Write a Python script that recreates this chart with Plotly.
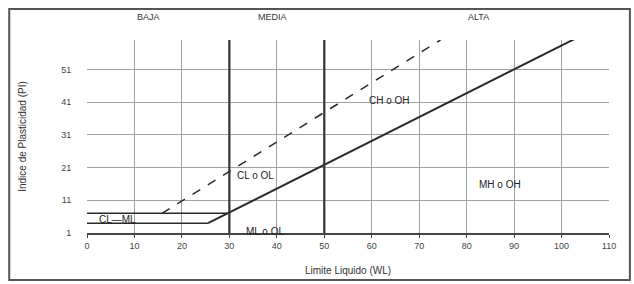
import plotly.graph_objects as go

# Data
ll_ticks = [0, 10, 20, 30, 40, 50, 60, 70, 80, 90, 100, 110]
pi_ticks = [1, 11, 21, 31, 41, 51]

a_line_ll = [25.5, 29.6, 103]
a_line_pi = [4, 7, 60.5]

u_line_ll = [15.8, 74.5]
u_line_pi = [7, 60]

clml_top_ll = [0, 29.6]
clml_top_pi = [7, 7]
clml_bot_ll = [0, 25.5]
clml_bot_pi = [4, 4]

zone_bounds = [30, 50]
zone_labels = ["BAJA", "MEDIA", "ALTA"]
zone_label_x = [13, 39, 82.5]

region_labels = ["CH o OH", "CL o OL", "MH o OH", "ML o OL", "CL—ML"]
region_x = [63.7, 35.5, 87, 37.5, 6.5]
region_y = [41.4, 18.7, 15.7, 1.6, 5.0]

fig = go.Figure()

line_col = "#2a2a2a"
fig.add_trace(go.Scatter(x=a_line_ll, y=a_line_pi, mode="lines",
                         line=dict(color=line_col, width=2), hoverinfo="skip"))
fig.add_trace(go.Scatter(x=u_line_ll, y=u_line_pi, mode="lines",
                         line=dict(color=line_col, width=1.5, dash="dash"), hoverinfo="skip"))
fig.add_trace(go.Scatter(x=clml_top_ll, y=clml_top_pi, mode="lines",
                         line=dict(color=line_col, width=1.5), hoverinfo="skip"))
fig.add_trace(go.Scatter(x=clml_bot_ll, y=clml_bot_pi, mode="lines",
                         line=dict(color=line_col, width=1.5), hoverinfo="skip"))

for b in zone_bounds:
    fig.add_shape(type="line", xref="x", yref="y", x0=b, x1=b, y0=1, y1=60,
                  line=dict(color="#333333", width=2.2))

for t, x in zip(zone_labels, zone_label_x):
    fig.add_annotation(x=x, y=1.12, xref="x", yref="paper", text=t,
                       showarrow=False, yanchor="middle",
                       font=dict(family="Liberation Sans", size=9, color="#333"))

for t, x, y in zip(region_labels, region_x, region_y):
    fig.add_annotation(x=x, y=y, xref="x", yref="y", text=t, showarrow=False,
                       font=dict(family="Liberation Sans", size=10, color="#222"))

# Outer frame
fig.add_shape(type="rect", xref="paper", yref="paper", x0=-0.149, x1=1.040, y0=-0.244, y1=1.161,
              line=dict(color="#555555", width=2))

fig.update_layout(
    width=634, height=284,
    margin=dict(l=87, r=25, t=40, b=51, autoexpand=False),
    paper_bgcolor="white", plot_bgcolor="white",
    showlegend=False,
    font=dict(family="Liberation Sans", size=9, color="#444"),
    xaxis=dict(range=[0, 110], tickvals=ll_ticks, showgrid=True, gridcolor="#a0a0a0",
               gridwidth=1, showline=True, linecolor="#444", linewidth=1.5,
               ticks="outside", ticklen=3, tickcolor="#444", zeroline=False, automargin=False,
               title=dict(text="Limite Liquido (WL)", font=dict(size=10, color="#333"), standoff=17)),
    yaxis=dict(range=[1, 60], tickvals=pi_ticks, showgrid=True, gridcolor="#a0a0a0",
               gridwidth=1, showline=False, zeroline=False, ticks="outside", ticklen=13,
               tickcolor="rgba(0,0,0,0)", automargin=False,
               title=dict(text="Indice de Plasticidad (PI)", font=dict(size=10, color="#333"), standoff=32)),
)

fig.write_html("out.html", config={"displayModeBar": False},
               post_script="document.body.style.margin='0';document.body.style.overflow='hidden';")
